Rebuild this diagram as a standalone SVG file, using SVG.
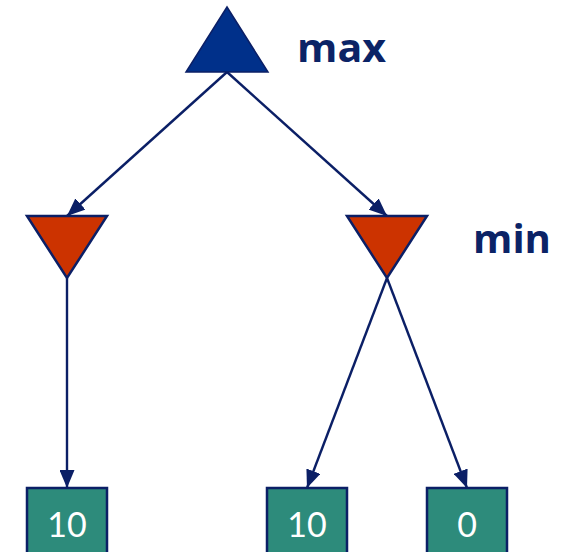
<svg xmlns="http://www.w3.org/2000/svg" width="563" height="552" viewBox="0 0 563 552">
  <style>
    .edge { stroke: #0b1f66; stroke-width: 2.4; fill: none; }
    .maxnode { fill: #00308a; stroke: #0b1f66; stroke-width: 1.5; }
    .minnode { fill: #cc3300; stroke: #0b1f66; stroke-width: 2.5; }
    .leaf rect { fill: #2d8b7b; stroke: #0b1f66; stroke-width: 2.5; }
    .leaf text { fill: #ffffff; font-family: Lato, "Open Sans", sans-serif; font-size: 34px; text-anchor: middle; }
    .label { fill: #0b2366; font-family: "Open Sans", "Noto Sans", sans-serif; font-weight: bold; font-size: 39px; }
  </style>
  <defs>
    <!-- filled arrowhead shared by all edges -->
    <marker id="arrowBig" viewBox="0 0 18 15" refX="18" refY="7.5" markerWidth="18" markerHeight="15" orient="auto" markerUnits="userSpaceOnUse">
      <path d="M0,0 L18,7.5 L0,15 Z" fill="#0b1f66"/>
    </marker>
  </defs>

  <g id="connectors">
    <line class="edge" x1="227" y1="72" x2="67" y2="216" marker-end="url(#arrowBig)"/>
    <line class="edge" x1="227" y1="72" x2="387" y2="216" marker-end="url(#arrowBig)"/>
    <line class="edge" x1="67" y1="278" x2="67" y2="488" marker-end="url(#arrowBig)"/>
    <line class="edge" x1="387" y1="278" x2="307" y2="488" marker-end="url(#arrowBig)"/>
    <line class="edge" x1="387" y1="278" x2="467" y2="488" marker-end="url(#arrowBig)"/>
  </g>

  <g id="root">
    <polygon class="maxnode" points="227,7 268,72 186,72"/>
    <text class="label" x="297" y="62" textLength="89" lengthAdjust="spacingAndGlyphs">max</text>
  </g>

  <g id="min-left">
    <polygon class="minnode" points="27,216 107,216 67,278"/>
  </g>

  <g id="min-right">
    <polygon class="minnode" points="347,216 427,216 387,278"/>
    <text class="label" x="473" y="253" textLength="78" lengthAdjust="spacingAndGlyphs">min</text>
  </g>

  <g id="leaf-1" class="leaf">
    <rect x="27" y="488" width="80" height="66"/>
    <text x="67" y="537">10</text>
  </g>

  <g id="leaf-2" class="leaf">
    <rect x="267" y="488" width="80" height="66"/>
    <text x="307" y="537">10</text>
  </g>

  <g id="leaf-3" class="leaf">
    <rect x="427" y="488" width="80" height="66"/>
    <text x="467" y="537">0</text>
  </g>
</svg>
